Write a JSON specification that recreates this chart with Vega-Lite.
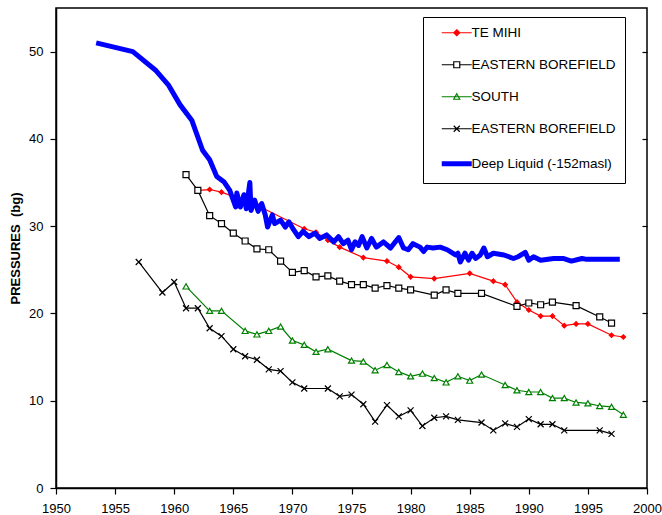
{
  "$schema": "https://vega.github.io/schema/vega-lite/v6.json",
  "width": 591,
  "height": 480,
  "autosize": {"type": "none"},
  "padding": {"left": 56, "top": 8, "right": 15, "bottom": 27},
  "config": {
    "font": "Liberation Sans",
    "view": {"stroke": "#000", "strokeWidth": 1.5},
    "axis": {"grid": false, "domainColor": "#000", "domainWidth": 1.5, "tickColor": "#000", "tickWidth": 1.2, "labelColor": "#000", "labelFontSize": 13, "labelFont": "Liberation Sans"}
  },
  "data": {"values": [
    {"s":"TE MIHI","year":1962,"p":34.1},{"s":"TE MIHI","year":1963,"p":34.2},{"s":"TE MIHI","year":1964,"p":33.9},{"s":"TE MIHI","year":1967,"p":32.4},{"s":"TE MIHI","year":1971,"p":29.7},{"s":"TE MIHI","year":1972,"p":29.3},{"s":"TE MIHI","year":1973,"p":28.4},{"s":"TE MIHI","year":1974,"p":27.6},{"s":"TE MIHI","year":1976,"p":26.4},{"s":"TE MIHI","year":1978,"p":26.0},{"s":"TE MIHI","year":1979,"p":25.3},{"s":"TE MIHI","year":1980,"p":24.2},{"s":"TE MIHI","year":1982,"p":24.0},{"s":"TE MIHI","year":1985,"p":24.6},{"s":"TE MIHI","year":1987,"p":23.7},{"s":"TE MIHI","year":1988,"p":23.3},{"s":"TE MIHI","year":1989,"p":21.3},{"s":"TE MIHI","year":1990,"p":20.4},{"s":"TE MIHI","year":1991,"p":19.7},{"s":"TE MIHI","year":1992,"p":19.7},{"s":"TE MIHI","year":1993,"p":18.6},{"s":"TE MIHI","year":1994,"p":18.8},{"s":"TE MIHI","year":1995,"p":18.8},{"s":"TE MIHI","year":1997,"p":17.5},{"s":"TE MIHI","year":1998,"p":17.3},
    {"s":"EB1","year":1961,"p":35.9},{"s":"EB1","year":1962,"p":34.1},{"s":"EB1","year":1963,"p":31.2},{"s":"EB1","year":1964,"p":30.3},{"s":"EB1","year":1965,"p":29.2},{"s":"EB1","year":1966,"p":28.3},{"s":"EB1","year":1967,"p":27.4},{"s":"EB1","year":1968,"p":27.3},{"s":"EB1","year":1969,"p":26.0},{"s":"EB1","year":1970,"p":24.7},{"s":"EB1","year":1971,"p":24.9},{"s":"EB1","year":1972,"p":24.2},{"s":"EB1","year":1973,"p":24.3},{"s":"EB1","year":1974,"p":23.7},{"s":"EB1","year":1975,"p":23.3},{"s":"EB1","year":1976,"p":23.3},{"s":"EB1","year":1977,"p":22.9},{"s":"EB1","year":1978,"p":23.2},{"s":"EB1","year":1979,"p":22.9},{"s":"EB1","year":1980,"p":22.7},{"s":"EB1","year":1982,"p":22.1},{"s":"EB1","year":1983,"p":22.7},{"s":"EB1","year":1984,"p":22.3},{"s":"EB1","year":1986,"p":22.3},{"s":"EB1","year":1989,"p":20.8},{"s":"EB1","year":1990,"p":21.2},{"s":"EB1","year":1991,"p":21.0},{"s":"EB1","year":1992,"p":21.3},{"s":"EB1","year":1994,"p":20.9},{"s":"EB1","year":1996,"p":19.6},{"s":"EB1","year":1997,"p":18.9},
    {"s":"SOUTH","year":1961,"p":23.1},{"s":"SOUTH","year":1963,"p":20.3},{"s":"SOUTH","year":1964,"p":20.3},{"s":"SOUTH","year":1966,"p":18.0},{"s":"SOUTH","year":1967,"p":17.6},{"s":"SOUTH","year":1968,"p":18.0},{"s":"SOUTH","year":1969,"p":18.5},{"s":"SOUTH","year":1970,"p":16.9},{"s":"SOUTH","year":1971,"p":16.4},{"s":"SOUTH","year":1972,"p":15.6},{"s":"SOUTH","year":1973,"p":15.9},{"s":"SOUTH","year":1975,"p":14.6},{"s":"SOUTH","year":1976,"p":14.5},{"s":"SOUTH","year":1977,"p":13.5},{"s":"SOUTH","year":1978,"p":14.1},{"s":"SOUTH","year":1979,"p":13.3},{"s":"SOUTH","year":1980,"p":12.8},{"s":"SOUTH","year":1981,"p":13.1},{"s":"SOUTH","year":1982,"p":12.6},{"s":"SOUTH","year":1983,"p":12.1},{"s":"SOUTH","year":1984,"p":12.8},{"s":"SOUTH","year":1985,"p":12.3},{"s":"SOUTH","year":1986,"p":13.0},{"s":"SOUTH","year":1988,"p":11.8},{"s":"SOUTH","year":1989,"p":11.2},{"s":"SOUTH","year":1990,"p":11.0},{"s":"SOUTH","year":1991,"p":11.0},{"s":"SOUTH","year":1992,"p":10.3},{"s":"SOUTH","year":1993,"p":10.3},{"s":"SOUTH","year":1994,"p":9.8},{"s":"SOUTH","year":1995,"p":9.7},{"s":"SOUTH","year":1996,"p":9.4},{"s":"SOUTH","year":1997,"p":9.3},{"s":"SOUTH","year":1998,"p":8.4},
    {"s":"EB2","year":1957,"p":25.9},{"s":"EB2","year":1959,"p":22.4},{"s":"EB2","year":1960,"p":23.6},{"s":"EB2","year":1961,"p":20.6},{"s":"EB2","year":1962,"p":20.6},{"s":"EB2","year":1963,"p":18.3},{"s":"EB2","year":1964,"p":17.4},{"s":"EB2","year":1965,"p":15.9},{"s":"EB2","year":1966,"p":15.1},{"s":"EB2","year":1967,"p":14.7},{"s":"EB2","year":1968,"p":13.6},{"s":"EB2","year":1969,"p":13.4},{"s":"EB2","year":1970,"p":12.1},{"s":"EB2","year":1971,"p":11.4},{"s":"EB2","year":1973,"p":11.4},{"s":"EB2","year":1974,"p":10.5},{"s":"EB2","year":1975,"p":10.7},{"s":"EB2","year":1976,"p":9.6},{"s":"EB2","year":1977,"p":7.6},{"s":"EB2","year":1978,"p":9.5},{"s":"EB2","year":1979,"p":8.2},{"s":"EB2","year":1980,"p":8.9},{"s":"EB2","year":1981,"p":7.1},{"s":"EB2","year":1982,"p":8.05},{"s":"EB2","year":1983,"p":8.2},{"s":"EB2","year":1984,"p":7.8},{"s":"EB2","year":1986,"p":7.5},{"s":"EB2","year":1987,"p":6.6},{"s":"EB2","year":1988,"p":7.4},{"s":"EB2","year":1989,"p":7.0},{"s":"EB2","year":1990,"p":7.9},{"s":"EB2","year":1991,"p":7.3},{"s":"EB2","year":1992,"p":7.3},{"s":"EB2","year":1993,"p":6.6},{"s":"EB2","year":1996,"p":6.6},{"s":"EB2","year":1997,"p":6.2},
    {"s":"DEEP","year":1953.4,"p":51.0},{"s":"DEEP","year":1956.5,"p":50.0},{"s":"DEEP","year":1958.4,"p":47.9},{"s":"DEEP","year":1959.5,"p":46.2},{"s":"DEEP","year":1960.5,"p":43.9},{"s":"DEEP","year":1961.5,"p":42.1},{"s":"DEEP","year":1962.4,"p":38.7},{"s":"DEEP","year":1963.0,"p":37.6},{"s":"DEEP","year":1963.6,"p":35.7},{"s":"DEEP","year":1964.2,"p":35.1},{"s":"DEEP","year":1964.7,"p":34.1},{"s":"DEEP","year":1965.2,"p":32.2},{"s":"DEEP","year":1965.3,"p":33.8},{"s":"DEEP","year":1965.6,"p":32.2},{"s":"DEEP","year":1965.9,"p":33.6},{"s":"DEEP","year":1966.1,"p":32.0},{"s":"DEEP","year":1966.4,"p":35.0},{"s":"DEEP","year":1966.5,"p":31.8},{"s":"DEEP","year":1966.8,"p":33.0},{"s":"DEEP","year":1967.1,"p":31.7},{"s":"DEEP","year":1967.4,"p":32.6},{"s":"DEEP","year":1967.7,"p":31.3},{"s":"DEEP","year":1967.9,"p":29.9},{"s":"DEEP","year":1968.3,"p":31.3},{"s":"DEEP","year":1968.5,"p":30.3},{"s":"DEEP","year":1969.0,"p":30.7},{"s":"DEEP","year":1969.4,"p":29.9},{"s":"DEEP","year":1969.7,"p":30.5},{"s":"DEEP","year":1970.1,"p":29.6},{"s":"DEEP","year":1970.5,"p":28.8},{"s":"DEEP","year":1970.9,"p":29.4},{"s":"DEEP","year":1971.4,"p":28.8},{"s":"DEEP","year":1971.9,"p":29.2},{"s":"DEEP","year":1972.3,"p":28.6},{"s":"DEEP","year":1972.9,"p":29.0},{"s":"DEEP","year":1973.5,"p":28.2},{"s":"DEEP","year":1973.9,"p":28.8},{"s":"DEEP","year":1974.3,"p":28.0},{"s":"DEEP","year":1974.7,"p":28.4},{"s":"DEEP","year":1975.0,"p":27.3},{"s":"DEEP","year":1975.3,"p":28.2},{"s":"DEEP","year":1975.6,"p":27.8},{"s":"DEEP","year":1975.9,"p":28.8},{"s":"DEEP","year":1976.3,"p":27.5},{"s":"DEEP","year":1976.7,"p":28.6},{"s":"DEEP","year":1977.1,"p":27.6},{"s":"DEEP","year":1977.7,"p":28.2},{"s":"DEEP","year":1978.3,"p":27.5},{"s":"DEEP","year":1979.0,"p":28.7},{"s":"DEEP","year":1979.4,"p":27.5},{"s":"DEEP","year":1979.8,"p":27.3},{"s":"DEEP","year":1980.2,"p":28.0},{"s":"DEEP","year":1980.8,"p":27.6},{"s":"DEEP","year":1981.1,"p":27.1},{"s":"DEEP","year":1981.4,"p":27.6},{"s":"DEEP","year":1981.9,"p":27.5},{"s":"DEEP","year":1982.5,"p":27.6},{"s":"DEEP","year":1983.1,"p":27.3},{"s":"DEEP","year":1983.8,"p":26.7},{"s":"DEEP","year":1984.0,"p":26.9},{"s":"DEEP","year":1984.2,"p":25.9},{"s":"DEEP","year":1984.6,"p":26.9},{"s":"DEEP","year":1984.9,"p":26.1},{"s":"DEEP","year":1985.2,"p":26.9},{"s":"DEEP","year":1985.5,"p":26.3},{"s":"DEEP","year":1985.9,"p":26.7},{"s":"DEEP","year":1986.2,"p":27.5},{"s":"DEEP","year":1986.5,"p":26.5},{"s":"DEEP","year":1987.0,"p":26.9},{"s":"DEEP","year":1987.9,"p":26.7},{"s":"DEEP","year":1988.7,"p":26.3},{"s":"DEEP","year":1989.1,"p":26.5},{"s":"DEEP","year":1989.7,"p":27.0},{"s":"DEEP","year":1990.0,"p":26.1},{"s":"DEEP","year":1990.4,"p":26.5},{"s":"DEEP","year":1991.0,"p":26.1},{"s":"DEEP","year":1992.1,"p":26.3},{"s":"DEEP","year":1992.9,"p":26.3},{"s":"DEEP","year":1993.6,"p":26.0},{"s":"DEEP","year":1994.5,"p":26.3},{"s":"DEEP","year":1994.9,"p":26.2},{"s":"DEEP","year":1996.0,"p":26.2},{"s":"DEEP","year":1997.7,"p":26.2}
  ]},
  "layer": [
    {
      "transform": [{"filter": "datum.s !== 'DEEP'"}],
      "mark": {"type": "line", "strokeWidth": 1.2},
      "encoding": {
        "x": {"field": "year", "type": "quantitative", "scale": {"domain": [1950, 2000], "nice": false, "zero": false},
              "axis": {"values": [1950,1955,1960,1965,1970,1975,1980,1985,1990,1995,2000], "format": "d", "tickSize": 6, "labelPadding": 8, "title": null, "labelFlush": false, "labelOverlap": false}},
        "y": {"field": "p", "type": "quantitative", "scale": {"domain": [0, 55], "nice": false},
              "axis": {"orient": "left", "values": [0,10,20,30,40,50], "tickSize": 6, "labelPadding": 7, "title": "PRESSURES \u00a0(bg)", "titleFontWeight": "bold", "titleFontSize": 13, "titleColor": "#000", "titlePadding": 6}},
        "color": {"field": "s", "type": "nominal",
          "scale": {"domain": ["TE MIHI", "EB1", "SOUTH", "EB2", "DEEP"], "range": ["#FF0000", "#000000", "#008000", "#000000", "#0000FF"]},
          "legend": {
            "orient": "none", "legendX": 367, "legendY": 9, "title": null,
            "strokeColor": "#000", "fillColor": "#fff", "padding": 9, "rowPadding": 17,
            "labelFontSize": 13.5, "labelFont": "Liberation Sans", "labelColor": "#000",
            "symbolSize": 100, "symbolOffset": 18, "labelOffset": 8,
            "labelExpr": "(datum.value === 'EB1' || datum.value === 'EB2' ? 'EASTERN BOREFIELD' : datum.value === 'DEEP' ? 'Deep Liquid (-152masl)' : datum.value) + '\u00a0\u00a0\u00a0\u00a0\u00a0\u00a0\u00a0\u00a0'",
            "encode": {"symbols": {"update": {
              "shape": {"signal": "datum.value === 'TE MIHI' ? 'M-3,0H3M0,-0.6L0.6,0L0,0.6L-0.6,0Z' : datum.value === 'EB1' ? 'M-3,0H-0.6M0.6,0H3M-0.6,-0.6H0.6V0.6H-0.6Z' : datum.value === 'SOUTH' ? 'M-3,0H3M0,-0.6L0.6,0.5H-0.6Z' : datum.value === 'EB2' ? 'M-3,0H3M-0.6,-0.6L0.6,0.6M0.6,-0.6L-0.6,0.6' : 'M-3,0H3'"},
              "fill": {"signal": "datum.value === 'TE MIHI' ? '#FF0000' : (datum.value === 'EB1' || datum.value === 'SOUTH') ? '#FFFFFF' : 'transparent'"},
              "strokeWidth": {"signal": "datum.value === 'DEEP' ? 5 : 1.2"},
              "size": {"value": 100},
              "opacity": {"value": 1}
            }}}
          }
        }
      }
    },
    {
      "transform": [{"filter": "datum.s !== 'DEEP'"}],
      "mark": {"type": "point", "filled": true, "strokeWidth": 1.2, "opacity": 1},
      "encoding": {
        "x": {"field": "year", "type": "quantitative"},
        "y": {"field": "p", "type": "quantitative", "axis": null},
        "shape": {"field": "s", "type": "nominal", "legend": null,
          "scale": {"domain": ["TE MIHI", "EB1", "SOUTH", "EB2"], "range": ["diamond", "square", "triangle-up", "M-1,-1L1,1M1,-1L-1,1"]}},
        "stroke": {"field": "s", "type": "nominal", "legend": null,
          "scale": {"domain": ["TE MIHI", "EB1", "SOUTH", "EB2"], "range": ["#FF0000", "#000000", "#008000", "#000000"]}},
        "fill": {"condition": {"test": "datum.s === 'TE MIHI'", "value": "#FF0000"}, "value": "#FFFFFF"},
        "size": {"condition": {"test": "datum.s === 'TE MIHI'", "value": 20}, "value": 36}
      }
    },
    {
      "transform": [{"filter": "datum.s === 'DEEP'"}],
      "mark": {"type": "line", "strokeWidth": 5, "strokeJoin": "round"},
      "encoding": {
        "x": {"field": "year", "type": "quantitative"},
        "y": {"field": "p", "type": "quantitative",
              "axis": {"orient": "right", "labels": false, "title": null, "tickSize": -5, "domain": false, "values": [10,20,30,40,50]}},
        "color": {"field": "s", "type": "nominal"}
      }
    }
  ],
  "resolve": {"axis": {"y": "independent"}}
}
